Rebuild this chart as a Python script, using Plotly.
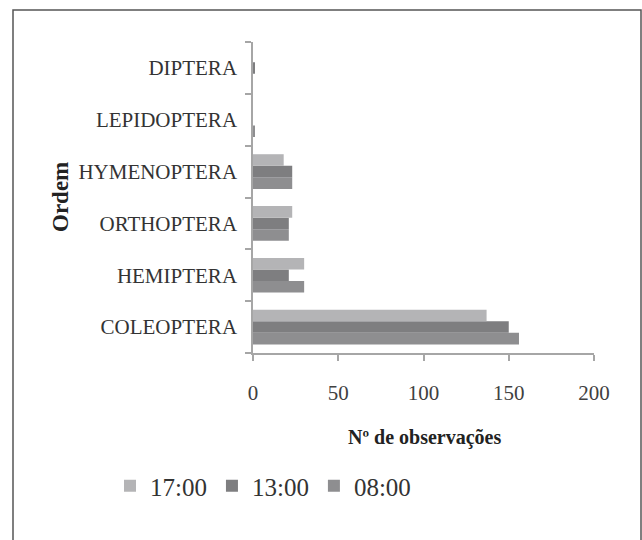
import plotly.graph_objects as go

# Insect orders (bottom to top) and observation counts per sampling time
ordens = ["COLEOPTERA", "HEMIPTERA", "ORTHOPTERA", "HYMENOPTERA", "LEPIDOPTERA", "DIPTERA"]
obs_0800 = [156, 30, 21, 23, 1, 0]
obs_1300 = [150, 21, 21, 23, 0, 1]
obs_1700 = [137, 30, 23, 18, 0, 0]
x_ticks = [0, 50, 100, 150, 200]

W, H = 642, 540
L, R, T, B = 253, 48, 42, 187
pw, ph = W - L - R, H - T - B


def px(xp):
    return (xp - L) / pw


def py(yp):
    return (H - B - yp) / ph


serif = "Liberation Serif, Times New Roman, serif"

fig = go.Figure()
fig.add_trace(go.Bar(y=ordens, x=obs_0800, name="08:00", orientation="h",
                     marker=dict(color="#8e8e90", line=dict(width=0))))
fig.add_trace(go.Bar(y=ordens, x=obs_1300, name="13:00", orientation="h",
                     marker=dict(color="#7e7e80", line=dict(width=0))))
fig.add_trace(go.Bar(y=ordens, x=obs_1700, name="17:00", orientation="h",
                     marker=dict(color="#b4b4b6", line=dict(width=0))))

fig.update_layout(
    width=W, height=H,
    margin=dict(l=L, r=R, t=T, b=B),
    paper_bgcolor="white", plot_bgcolor="white",
    barmode="group", bargap=0.33, bargroupgap=0,
    font=dict(family=serif, color="#333333"),
    showlegend=True,
    legend=dict(orientation="h", traceorder="reversed",
                x=px(263), xanchor="center", y=py(486), yanchor="middle",
                font=dict(size=25, family=serif, color="#333333"),
                itemwidth=30, bgcolor="rgba(0,0,0,0)"),
    xaxis=dict(range=[0, 200], tickvals=x_ticks, showgrid=False, zeroline=False,
               showline=True, linecolor="#a6a6a6", linewidth=1.5,
               ticks="outside", ticklen=6, tickcolor="#a6a6a6", tickwidth=1.5,
               ticklabelstandoff=14,
               tickfont=dict(size=21, family=serif, color="#404040")),
    yaxis=dict(categoryorder="array", categoryarray=ordens, showgrid=False,
               zeroline=False, showline=True, linecolor="#a6a6a6", linewidth=1.5,
               ticks="outside", ticklen=6, tickcolor="#a6a6a6", tickwidth=1.5,
               tickson="boundaries", ticklabelstandoff=10,
               tickfont=dict(size=21, family=serif, color="#333333")),
    annotations=[
        dict(text="<b>Nº de observações</b>", xref="paper", yref="paper",
             x=px(424), y=py(437), xanchor="center", yanchor="middle",
             showarrow=False, font=dict(size=20, family=serif, color="#222222")),
        dict(text="<b>Ordem</b>", xref="paper", yref="paper",
             x=px(60), y=py(197), xanchor="center", yanchor="middle",
             textangle=-90, showarrow=False,
             font=dict(size=23, family=serif, color="#222222")),
    ],
    shapes=[
        dict(type="rect", xref="paper", yref="paper",
             x0=px(13), x1=px(641), y0=py(560), y1=py(10),
             line=dict(color="#555555", width=1.5), layer="below"),
    ],
)

fig.write_html("out.html")
